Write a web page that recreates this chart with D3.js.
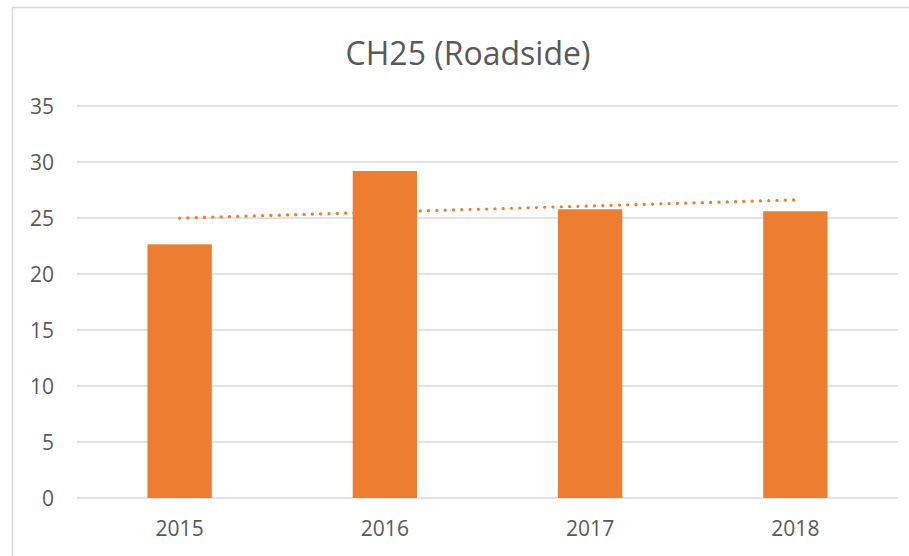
<!DOCTYPE html>
<html>
<head>
<meta charset="utf-8">
<script src="https://cdn.jsdelivr.net/npm/d3@7"></script>
<style>
  body { margin: 0; background: #fff; }
  svg text { font-family: "Open Sans", sans-serif; fill: #595959; }
</style>
</head>
<body>
<div id="chart"></div>
<script>
// CH25 roadside yearly values
const years = ['2015', '2016', '2017', '2018'];
const values = [22.65, 29.2, 25.78, 25.6];
const yTicks = [0, 5, 10, 15, 20, 25, 30, 35];
const title = 'CH25 (Roadside)';

const W = 909, H = 556;
const svg = d3.select('#chart').append('svg')
  .attr('width', W).attr('height', H);

// chart frame
svg.append('rect')
  .attr('x', 12.5).attr('y', 7.5)
  .attr('width', W + 20).attr('height', H + 20)
  .attr('fill', 'none').attr('stroke', '#d9d9d9').attr('stroke-width', 1.5);

const x = d3.scaleBand().domain(years).range([77, 898]).padding(0);
const y = d3.scaleLinear().domain([0, 35]).range([498, 106]);
const barW = x.bandwidth() / 3.19;

// gridlines
svg.append('g').selectAll('line').data(yTicks).enter().append('line')
  .attr('x1', 77).attr('x2', 898)
  .attr('y1', d => y(d)).attr('y2', d => y(d))
  .attr('stroke', '#d9d9d9').attr('stroke-width', 1.3);

// y axis labels
const yAxis = svg.append('g').attr('transform', 'translate(54,0)')
  .call(d3.axisLeft(y).tickValues(yTicks).tickSize(0).tickPadding(0));
yAxis.select('.domain').remove();
yAxis.selectAll('text').attr('font-size', '21px').attr('fill', '#595959')
  .attr('dy', '0.38em')
  .attr('font-family', '"Open Sans", sans-serif');

// x axis labels
const xAxis = svg.append('g').attr('transform', 'translate(0,498)')
  .call(d3.axisBottom(x).tickSize(0));
xAxis.select('.domain').remove();
xAxis.selectAll('text').attr('font-size', '21px').attr('fill', '#595959')
  .attr('y', 38).attr('dy', 0)
  .attr('font-family', '"Open Sans", sans-serif');

// bars
svg.append('g').selectAll('rect').data(values).enter().append('rect')
  .attr('x', (d, i) => x(years[i]) + (x.bandwidth() - barW) / 2)
  .attr('y', d => y(d))
  .attr('width', barW)
  .attr('height', d => y(0) - y(d))
  .attr('fill', '#ed7d31');

// linear trendline (least squares over index 1..n)
const xs = values.map((d, i) => i + 1);
const mx = d3.mean(xs), my = d3.mean(values);
const slope = d3.sum(xs, (t, i) => (t - mx) * (values[i] - my)) / d3.sum(xs, t => (t - mx) ** 2);
const icpt = my - slope * mx;
const trend = xs.map((t, i) => ({year: years[i], v: icpt + slope * t}));
const line = d3.line().x(d => x(d.year) + x.bandwidth() / 2).y(d => y(d.v));
svg.append('path').datum(trend)
  .attr('d', line)
  .attr('fill', 'none')
  .attr('stroke', '#ed7d31')
  .attr('stroke-width', 3.2)
  .attr('stroke-linecap', 'round')
  .attr('stroke-dasharray', '0.1 8.2');

// title
svg.append('text')
  .attr('x', 468).attr('y', 65)
  .attr('text-anchor', 'middle')
  .attr('font-size', '32px')
  .text(title);
</script>
</body>
</html>
